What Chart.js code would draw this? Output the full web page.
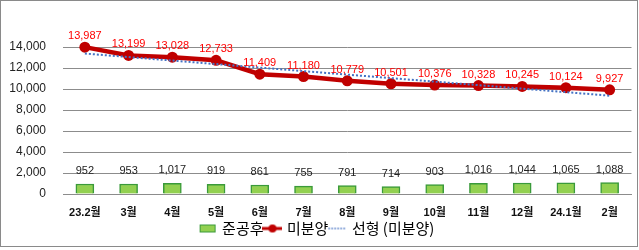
<!DOCTYPE html>
<html>
<head>
<meta charset="utf-8">
<script src="https://cdn.jsdelivr.net/npm/chart.js@4/dist/chart.umd.min.js"></script>
<style>
  body { margin: 0; background: #fff; }
  #wrap { position: absolute; left: 0; top: 0; width: 638px; height: 247px; border: 1px solid #8a8a8a; box-sizing: border-box; }
</style>
</head>
<body>
<div id="wrap"><canvas id="myChart"></canvas></div>
<script>
// chart data
const categories = ['23.2월', '3월', '4월', '5월', '6월', '7월', '8월', '9월', '10월', '11월', '12월', '24.1월', '2월'];
const completedValues = [952, 953, 1017, 919, 861, 755, 791, 714, 903, 1016, 1044, 1065, 1088];
const unsoldValues = [13987, 13199, 13028, 12733, 11409, 11180, 10779, 10501, 10376, 10328, 10245, 10124, 9927];
const yTicks = [0, 2000, 4000, 6000, 8000, 10000, 12000, 14000];

const numFont = "'Liberation Sans', 'Noto Sans CJK KR', sans-serif";
const krFont = "'Noto Sans CJK KR', 'Liberation Sans', sans-serif";

// linear trendline (least squares) of the unsold series, like Excel's 선형 trendline
function linearTrend(values) {
    let n = values.length, sx = 0, sy = 0, sxy = 0, sxx = 0;
    values.forEach((v, i) => { sx += i; sy += v; sxy += i * v; sxx += i * i; });
    let slope = (n * sxy - sx * sy) / (n * sxx - sx * sx);
    let icept = (sy - slope * sx) / n;
    return values.map((v, i) => icept + slope * i);
}
const trendValues = linearTrend(unsoldValues);

// small pictures for the legend markers
function legendIcon(kind) {
    let c = document.createElement('canvas');
    c.width = 20; c.height = 10;
    let g = c.getContext('2d');
    if (kind == 'bar') {
        g.fillStyle = '#92D050';
        g.strokeStyle = '#3A9A3A';
        g.lineWidth = 1;
        g.fillRect(2.5, 1.5, 15, 7);
        g.strokeRect(2.5, 1.5, 15, 7);
    } else if (kind == 'line') {
        g.strokeStyle = '#C00000';
        g.lineWidth = 3;
        g.beginPath(); g.moveTo(0, 5); g.lineTo(20, 5); g.stroke();
        g.fillStyle = '#C00000';
        g.beginPath(); g.arc(10, 5, 4, 0, Math.PI * 2); g.fill();
    } else {
        g.strokeStyle = '#4472C4';
        g.lineWidth = 1.5;
        g.setLineDash([1.5, 1.5]);
        g.beginPath(); g.moveTo(1, 5); g.lineTo(19, 5); g.stroke();
    }
    return c;
}

// value labels over bars and points
const valueLabels = {
    id: 'valueLabels',
    afterDatasetsDraw(chart) {
        let ctx = chart.ctx;
        ctx.save();
        ctx.textAlign = 'center';
        ctx.textBaseline = 'middle';
        ctx.font = '11px ' + numFont;
        chart.getDatasetMeta(0).data.forEach((bar, i) => {
            ctx.fillStyle = '#222';
            ctx.fillText(completedValues[i].toLocaleString('en-US'), bar.x, bar.y - 13);
        });
        chart.getDatasetMeta(1).data.forEach((pt, i) => {
            ctx.fillStyle = '#FF0000';
            ctx.fillText(unsoldValues[i].toLocaleString('en-US'), pt.x, pt.y - 11);
        });
        ctx.restore();
    }
};

let ctx = document.getElementById('myChart').getContext('2d');
let myChart = new Chart(ctx, {
    type: 'bar',
    data: {
        labels: categories,
        datasets: [{
            type: 'bar',
            label: '준공후',
            data: completedValues,
            backgroundColor: '#92D050',
            borderColor: '#3A9A3A',
            borderWidth: 1.5,
            barThickness: 18,
            order: 2
        }, {
            type: 'line',
            label: '미분양',
            data: unsoldValues,
            borderColor: '#C00000',
            backgroundColor: '#C00000',
            borderWidth: 4.5,
            pointRadius: 5.5,
            pointBorderWidth: 0,
            clip: false,
            order: 1
        }, {
            type: 'line',
            label: '선형 (미분양)',
            data: trendValues,
            borderColor: '#4472C4',
            borderWidth: 2,
            borderDash: [2, 2],
            pointRadius: 0,
            clip: false,
            order: 0
        }]
    },
    plugins: [valueLabels],
    options: {
        responsive: true,
        maintainAspectRatio: false,
        animation: false,
        layout: { padding: { top: 46, right: 3, left: 0, bottom: 0 } },
        plugins: {
            tooltip: { enabled: false },
            legend: {
                position: 'bottom',
                labels: {
                    usePointStyle: true,
                    pointStyleWidth: 14,
                    padding: 2,
                    color: '#333',
                    font: { size: 15, family: krFont },
                    generateLabels(chart) {
                        let kinds = ['bar', 'line', 'trend'];
                        return chart.data.datasets.map((ds, i) => ({
                            text: ds.label,
                            datasetIndex: i,
                            pointStyle: legendIcon(kinds[i]),
                            fillStyle: 'transparent',
                            strokeStyle: 'transparent',
                            lineWidth: 0,
                            hidden: false
                        }));
                    }
                }
            }
        },
        scales: {
            x: {
                grid: { display: false, drawTicks: false },
                border: { color: '#8c8c8c' },
                ticks: {
                    color: '#111',
                    padding: 12,
                    font: { size: 11, weight: 'bold', family: numFont }
                },
                afterFit(scale) { scale.height = 25; }
            },
            y: {
                min: 0,
                max: 14000,
                afterBuildTicks(scale) { scale.ticks = yTicks.map(v => ({ value: v })); },
                grid: { color: '#8c8c8c', drawTicks: false },
                border: { display: false },
                ticks: {
                    color: '#222',
                    padding: 17,
                    font: { size: 12, family: numFont },
                    callback: v => v.toLocaleString('en-US')
                },
                afterFit(scale) { scale.width = 62; }
            }
        }
    }
});
</script>
</body>
</html>
